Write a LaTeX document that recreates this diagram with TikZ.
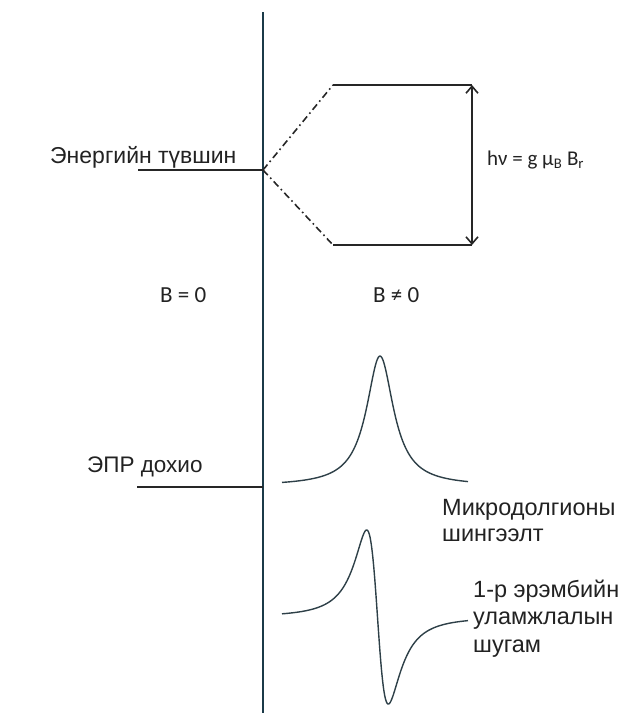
\documentclass[tikz,border=0pt]{standalone}
\usepackage{fontspec}
\setmainfont{Liberation Sans}
\newfontfamily\calib{Carlito}
\usetikzlibrary{arrows.meta}
\definecolor{axiscol}{HTML}{1B3A48}
\definecolor{curvecol}{HTML}{2E4048}
\definecolor{txtcol}{HTML}{222222}
\tikzset{
  lbl/.style={inner sep=0pt, anchor=base west, text=txtcol, font=\fontsize{23}{26}\selectfont},
  lblbig/.style={lbl, font=\fontsize{23.5}{26}\selectfont, align=left},
  eqlbl/.style={inner sep=0pt, anchor=base west, text=txtcol, font=\calib\fontsize{23}{26}\selectfont},
  level/.style={line width=1.6pt, draw=black!85},
  split/.style={line width=1.6pt, draw=black!85, dash pattern=on 7pt off 3.5pt on 1.6pt off 3.5pt},
  signal/.style={line width=1.4pt, draw=curvecol, line join=round},
  axisline/.style={line width=1.8pt, draw=axiscol}
}
\begin{document}
\begin{tikzpicture}[x=1pt,y=-1pt]
\useasboundingbox (0,0) rectangle (629,713);
% axis
\coordinate (ax1) at (263,12);
\coordinate (ax2) at (263,713);
\draw[axisline] (ax1) -- (ax2);
% energy level
\coordinate (e0) at (138,170);
\coordinate (e1) at (263,170);
\draw[level] (e0) -- (e1);
\node[lbl] (elbl) at (50,163) {Энергийн түвшин};
% splitting
\coordinate (u0) at (333,85);
\coordinate (u1) at (472,85);
\coordinate (d0) at (333,245);
\coordinate (d1) at (472,245);
\draw[split] (e1) -- (u0);
\draw[split] (e1) -- (d0);
\draw[level] (u0) -- (u1);
\draw[level] (d0) -- (d1);
\draw[level, {Straight Barb[length=7pt,width=12pt]}-{Straight Barb[length=7pt,width=12pt]}] (u1) -- (d1);
\node[eqlbl, font=\calib\fontsize{21}{24}\selectfont] (eq) at (487,165) {hν = g μ\textsubscript{B} B\textsubscript{r}};
% B labels
\node[eqlbl] (b0) at (160,302) {B = 0};
\node[eqlbl] (b1) at (373,302) {B ≠ 0};
% EPR signal
\coordinate (s0) at (137,487);
\coordinate (s1) at (263,487);
\draw[level] (s0) -- (s1);
\node[lbl, font=\fontsize{22.5}{26}\selectfont] (slbl) at (87,472) {ЭПР дохио};
% absorption
\draw[signal] plot[domain=282:468, samples=200, smooth] (\x, {486 - 130/(1+((\x-380)/16.5)^2)});
\node[lblbig] (abs1) at (442,515) {Микродолгионы};
\node[lblbig] (abs2) at (442,541) {шингээлт};
% derivative
\draw[signal] plot[domain=282:468, samples=240, smooth] (\x, {617 + 248*((\x-377.5)/17.1)/pow(1+((\x-377.5)/17.1)^2,1.75)});
\node[lblbig] (der1) at (473,597) {1-р эрэмбийн};
\node[lblbig] (der2) at (473,624) {уламжлалын};
\node[lblbig] (der3) at (473,652) {шугам};
\end{tikzpicture}
\end{document}
